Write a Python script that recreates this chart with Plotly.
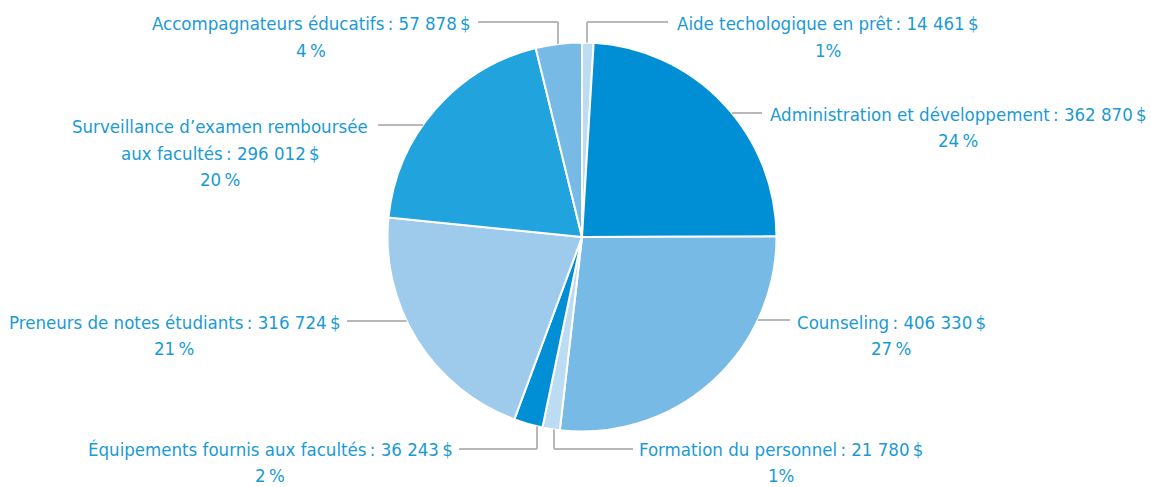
import math
import plotly.graph_objects as go

# ---- data ----
labels = [
    "Aide techologique en prêt",
    "Administration et développement",
    "Counseling",
    "Formation du personnel",
    "Équipements fournis aux facultés",
    "Preneurs de notes étudiants",
    "Surveillance d’examen remboursée<br>aux facultés",
    "Accompagnateurs éducatifs",
]
values = [14461, 362870, 406330, 21780, 36243, 316724, 296012, 57878]
colors = ["#bcdcf3", "#008fd5", "#77bae6", "#bcdcf3", "#008fd5", "#9ecbec", "#21a3dd", "#77bae6"]

W, H = 1151, 487
CX, CY, R = 582, 237, 194.5
TXT = "#1a9ad6"
LINE = "#b8b8bc"
FONT = "DejaVu Sans Condensed, Liberation Sans Narrow, sans-serif"

total = sum(values)


def px(x):
    return x / W


def py(y):
    return 1 - y / H


def fmt(v):
    return f"{v:,}".replace(",", "\u00a0")


def pct(v):
    p = round(v / total * 100)
    return f"{p}%" if p == 1 else f"{p}\u2009%"


fig = go.Figure(go.Pie(
    labels=[l.replace("<br>", " ") for l in labels],
    values=values,
    sort=False,
    direction="clockwise",
    rotation=0,
    marker=dict(colors=colors, line=dict(color="white", width=2)),
    textinfo="none",
    hoverinfo="label+value+percent",
    showlegend=False,
    domain=dict(x=[px(CX - R), px(CX + R)], y=[py(CY + R), py(CY - R)]),
))

# label placement: (block centre x, first line y, leader kind, leader params)
layout_spec = [
    (828, 24, "v", dict(x=587, ly=22, end=668, top=True)),
    (958, 114, "h", dict(y=113, end=762, right=True)),
    (891, 322, "h", dict(y=320, end=790, right=True)),
    (781, 449, "v", dict(x=554, ly=449, end=633, top=False)),
    (270, 449, "v", dict(x=537, ly=449, end=459, top=False)),
    (174, 322, "h", dict(y=321, end=347, right=False)),
    (220, 127, "h", dict(y=125, end=378, right=False)),
    (311, 24, "v", dict(x=558, ly=22, end=478, top=True)),
]
LINE_GAP = 26.5

annotations = []
shapes = []
for lab, v, (cx, y0, kind, p) in zip(labels, values, layout_spec):
    text = f"{lab}\u2009:\u00a0{fmt(v)}\u2009$<br>{pct(v)}"
    for i, line in enumerate(text.split("<br>")):
        annotations.append(dict(
            x=px(cx), y=py(y0 + i * LINE_GAP), xref="paper", yref="paper",
            xanchor="center", yanchor="middle", align="center",
            text=line, showarrow=False,
            font=dict(family=FONT, size=18.5, color=TXT),
        ))
    if kind == "h":
        dy = abs(p["y"] - CY)
        dx = math.sqrt(max(R * R - dy * dy, 0))
        ex = CX + dx if p["right"] else CX - dx
        shapes.append(dict(type="line", xref="paper", yref="paper",
                           x0=px(ex), y0=py(p["y"]), x1=px(p["end"]), y1=py(p["y"]),
                           line=dict(color=LINE, width=2)))
    else:
        dx = abs(p["x"] - CX)
        dy = math.sqrt(max(R * R - dx * dx, 0))
        ey = CY - dy if p["top"] else CY + dy
        shapes.append(dict(type="line", xref="paper", yref="paper",
                           x0=px(p["x"]), y0=py(ey), x1=px(p["x"]), y1=py(p["ly"]),
                           line=dict(color=LINE, width=2)))
        shapes.append(dict(type="line", xref="paper", yref="paper",
                           x0=px(p["x"]), y0=py(p["ly"]), x1=px(p["end"]), y1=py(p["ly"]),
                           line=dict(color=LINE, width=2)))

fig.update_layout(
    width=W, height=H,
    margin=dict(l=0, r=0, t=0, b=0),
    paper_bgcolor="white", plot_bgcolor="white",
    annotations=annotations, shapes=shapes,
)

fig.write_html("out.html", config={"displayModeBar": False},
               post_script="document.body.style.margin='0';")
